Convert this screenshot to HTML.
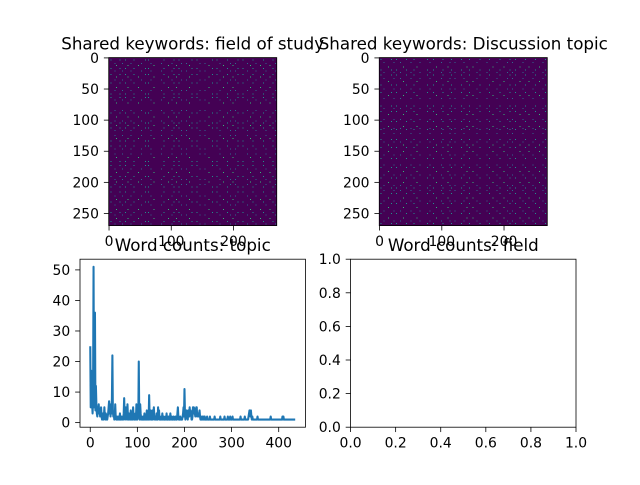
<!DOCTYPE html>
<html><head><meta charset="utf-8"><style>
html,body{margin:0;padding:0;background:#fff}
svg text{font-family:"DejaVu Sans","Liberation Sans",sans-serif;fill:#000}
</style></head><body>
<svg id="fig" width="640" height="480" viewBox="0 0 640 480" xmlns="http://www.w3.org/2000/svg"></svg>
<script>
// ---- data ----
const wordCounts = [
25,5,17,8,6,3,9,51,5,10,36,4,12,6,3,2,5,4,6,3,
4,2,3,5,2,1,2,3,1,2,5,2,1,3,2,1,1,2,3,5,
7,3,6,2,5,3,8,22,4,2,3,1,2,6,2,1,1,2,1,1,
2,1,1,3,1,1,2,1,1,2,1,3,8,2,1,3,5,2,1,6,
2,1,3,2,1,1,4,2,1,2,1,5,2,1,1,2,3,1,6,2,
1,3,2,20,2,1,6,3,1,2,1,1,2,1,1,3,1,2,1,1,
4,1,2,3,1,9,2,1,4,2,1,1,4,1,2,5,2,1,1,2,
1,3,1,1,5,2,4,1,2,1,1,2,1,3,1,1,2,1,1,1,
2,1,3,1,1,1,2,1,1,1,3,1,1,2,1,1,1,2,1,1,
1,2,1,1,1,3,5,2,1,1,1,2,1,1,1,1,2,3,5,2,
11,3,1,2,4,3,2,1,4,2,2,5,3,4,3,1,1,2,5,3,
5,4,3,2,4,5,5,2,3,2,2,3,4,2,1,2,1,1,2,1,
1,2,1,2,1,1,1,1,2,1,1,1,1,1,2,1,1,1,1,1,
1,1,1,1,2,1,1,1,1,1,1,1,1,1,1,1,2,1,1,1,
1,1,1,1,1,2,1,1,1,1,1,1,2,1,1,1,1,2,1,1,
1,1,2,1,1,1,1,1,1,1,1,1,1,1,1,1,1,1,1,2,
1,1,1,1,1,1,1,1,2,1,1,1,1,1,1,1,2,3,4,3,
2,4,2,1,2,1,1,1,1,1,1,1,1,1,1,2,1,1,1,1,
1,1,1,1,1,1,1,1,1,1,1,1,1,1,1,1,1,1,1,1,
1,1,1,2,1,1,1,1,1,1,1,1,1,1,1,1,1,1,1,1,
1,1,1,1,1,1,1,1,2,1,2,1,1,1,1,1,1,1,1,1,
1,1,1,1,1,1,1,1,1,1,1,1,1,1,1,1];
const lineXTicks = [0,100,200,300,400];
const lineYTicks = [0,10,20,30,40,50];
const heatN = 270;
const heatXTicks = [0,100,200];
const heatYTicks = [0,50,100,150,200,250];
const fieldGroupA = [3,17,26,40,58,63,88,104,112,133,141,166,173,190,207,215,231,248,263];
const fieldGroupB = [9,21,35,52,67,84,101,116,124,146,154,178,195,203,222,236,252,267];
const fieldGroupC = [12,30,47,72,95,108,129,160,184,199,227,243,258];
const topicGroupA = [2,19,27,43,55,77,86,102,115,131,144,161,176,193,209,218,234,250,266];
const topicGroupB = [7,23,33,50,65,81,99,113,121,135,156,172,188,205,213,230,246,262];
const topicGroupC = [14,38,60,91,110,140,150,182,200,225,240,257];
const emptyTicks = [0,0.2,0.4,0.6,0.8,1.0];

const NS="http://www.w3.org/2000/svg";
const svg=document.getElementById('fig');
function mk(tag,attrs,parent){const e=document.createElementNS(NS,tag);for(const k in attrs)e.setAttribute(k,attrs[k]);(parent||svg).appendChild(e);return e;}
function txt(s,x,y,anchor,size,parent){const t=mk('text',{x:x,y:y,'text-anchor':anchor,'font-size':size},parent);t.textContent=s;return t;}

const AX=[{x:80,y:57.6,w:225.45,h:168},{x:350.55,y:57.6,w:225.45,h:168},{x:80,y:259.2,w:225.45,h:168},{x:350.55,y:259.2,w:225.45,h:168}];
const TL=4.86, FS=13.9;
const COLORS=['#21918c','#31688e','#35b779'];

// ---- heatmaps ----
function heatmap(ax,groups,title,name){
  const s=ax.h, x0=ax.x+(ax.w-s)/2, y0=ax.y, c=s/heatN;
  const g=mk('g',{});
  
  
  const bg=mk('rect',{x:x0,y:y0,width:s,height:s,fill:'#440154'},g);
  
  
  groups.forEach((grp,gi)=>{
    grp.forEach(r=>grp.forEach(col=>{
      const cell=mk('rect',{x:(x0+col*c).toFixed(2),y:(y0+r*c).toFixed(2),width:1,height:1,fill:COLORS[gi],'shape-rendering':'crispEdges'},g);
      
      
    }));
  });
  const fr=mk('rect',{x:x0,y:y0,width:s,height:s,fill:'none',stroke:'#000','stroke-width':0.8},g);
  
  
  heatXTicks.forEach(v=>{const px=x0+(v+0.5)*c;
    mk('line',{x1:px,x2:px,y1:y0+s,y2:y0+s+TL,stroke:'#000','stroke-width':0.8},g);
    const t=txt(String(v),px,y0+s+TL+4.9+FS*0.76,'middle',FS,g);
    
    });
  heatYTicks.forEach(v=>{const py=y0+(v+0.5)*c;
    mk('line',{x1:x0-TL,x2:x0,y1:py,y2:py,stroke:'#000','stroke-width':0.8},g);
    const t=txt(String(v),x0-TL-4.9,py+5,'end',FS,g);
    
    });
  const tt=txt(title,ax.x+ax.w/2,y0-8.3,'middle',16.7,g);
  
  
}
heatmap(AX[0],[fieldGroupA,fieldGroupB,fieldGroupC],'Shared keywords: field of study','heatmap-field');
heatmap(AX[1],[topicGroupA,topicGroupB,topicGroupC],'Shared keywords: Discussion topic','heatmap-topic');

// ---- line chart ----
(function(){
  const ax=AX[2];
  const n=wordCounts.length, xmin=0, xmax=n-1;
  const ymin=Math.min(...wordCounts), ymax=Math.max(...wordCounts);
  const xl0=xmin-0.05*(xmax-xmin), xl1=xmax+0.05*(xmax-xmin);
  const yl0=ymin-0.05*(ymax-ymin), yl1=ymax+0.05*(ymax-ymin);
  const sx=v=>ax.x+(v-xl0)/(xl1-xl0)*ax.w;
  const sy=v=>ax.y+ax.h-(v-yl0)/(yl1-yl0)*ax.h;
  const g=mk('g',{});
  
  
  const cp=mk('clipPath',{id:'cl'},g);mk('rect',{x:ax.x,y:ax.y,width:ax.w,height:ax.h},cp);
  const pts=wordCounts.map((v,i)=>sx(i).toFixed(2)+','+sy(v).toFixed(2)).join(' ');
  const pl=mk('polyline',{points:pts,fill:'none',stroke:'#1f77b4','stroke-width':2.08,'stroke-linejoin':'round','clip-path':'url(#cl)'},g);
  
  
  const fr=mk('rect',{x:ax.x,y:ax.y,width:ax.w,height:ax.h,fill:'none',stroke:'#000','stroke-width':0.8},g);
  
  
  lineXTicks.forEach(v=>{const px=sx(v);
    mk('line',{x1:px,x2:px,y1:ax.y+ax.h,y2:ax.y+ax.h+TL,stroke:'#000','stroke-width':0.8},g);
    const t=txt(String(v),px,ax.y+ax.h+TL+4.9+FS*0.76,'middle',FS,g);
    
    });
  lineYTicks.forEach(v=>{const py=sy(v);
    mk('line',{x1:ax.x-TL,x2:ax.x,y1:py,y2:py,stroke:'#000','stroke-width':0.8},g);
    const t=txt(String(v),ax.x-TL-4.9,py+5,'end',FS,g);
    
    });
  const tt=txt('Word counts: topic',ax.x+ax.w/2,ax.y-8.3,'middle',16.7,g);
  
  
})();

// ---- empty axes ----
(function(){
  const ax=AX[3];
  const g=mk('g',{});
  
  
  const fr=mk('rect',{x:ax.x,y:ax.y,width:ax.w,height:ax.h,fill:'none',stroke:'#000','stroke-width':0.8},g);
  
  
  emptyTicks.forEach(v=>{const px=ax.x+v*ax.w, py=ax.y+ax.h-v*ax.h;
    mk('line',{x1:px,x2:px,y1:ax.y+ax.h,y2:ax.y+ax.h+TL,stroke:'#000','stroke-width':0.8},g);
    const t=txt(v.toFixed(1),px,ax.y+ax.h+TL+4.9+FS*0.76,'middle',FS,g);
    
    
    mk('line',{x1:ax.x-TL,x2:ax.x,y1:py,y2:py,stroke:'#000','stroke-width':0.8},g);
    const u=txt(v.toFixed(1),ax.x-TL-4.9,py+5,'end',FS,g);
    
    });
  const tt=txt('Word counts: field',ax.x+ax.w/2,ax.y-8.3,'middle',16.7,g);
  
  
})();
</script>
</body></html>
